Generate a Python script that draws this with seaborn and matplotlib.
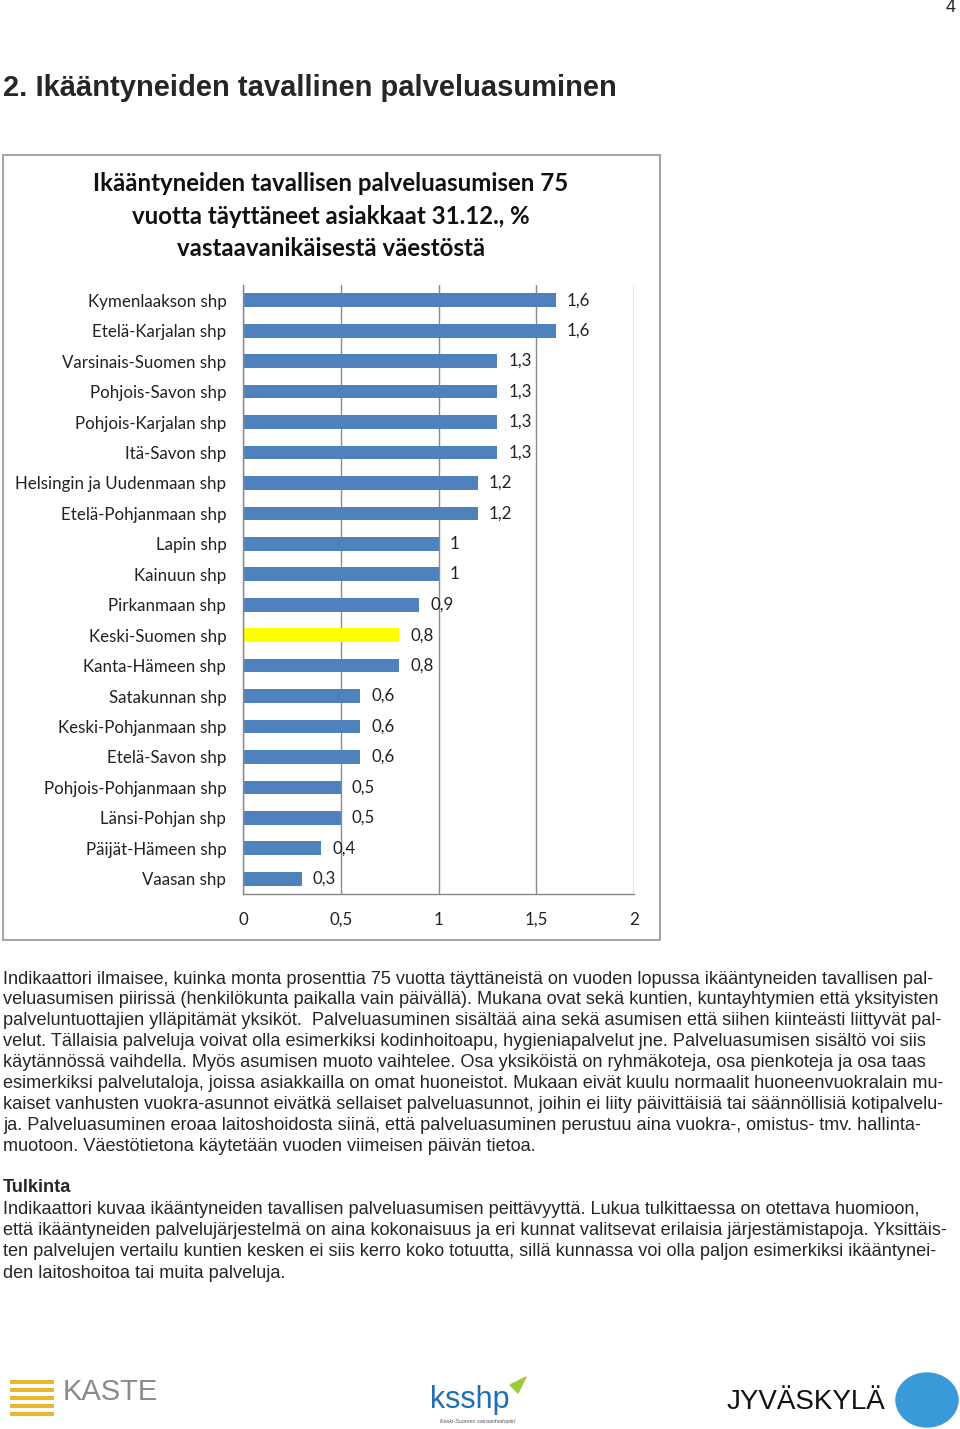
import matplotlib
matplotlib.use('Agg')
import matplotlib.pyplot as plt
import matplotlib.patches as mpatches
import seaborn as sns

# Data
regions = ['Kymenlaakson shp', 'Etelä-Karjalan shp', 'Varsinais-Suomen shp', 'Pohjois-Savon shp',
           'Pohjois-Karjalan shp', 'Itä-Savon shp', 'Helsingin ja Uudenmaan shp', 'Etelä-Pohjanmaan shp',
           'Lapin shp', 'Kainuun shp', 'Pirkanmaan shp', 'Keski-Suomen shp', 'Kanta-Hämeen shp',
           'Satakunnan shp', 'Keski-Pohjanmaan shp', 'Etelä-Savon shp', 'Pohjois-Pohjanmaan shp',
           'Länsi-Pohjan shp', 'Päijät-Hämeen shp', 'Vaasan shp']
values = [1.6, 1.6, 1.3, 1.3, 1.3, 1.3, 1.2, 1.2, 1.0, 1.0, 0.9, 0.8, 0.8, 0.6, 0.6, 0.6, 0.5, 0.5, 0.4, 0.3]
highlight = 'Keski-Suomen shp'
x_ticks = [0, 0.5, 1, 1.5, 2]
x_tick_labels = ['0', '0,5', '1', '1,5', '2']

chart_title = 'Ikääntyneiden tavallisen palveluasumisen 75\nvuotta täyttäneet asiakkaat 31.12., %\nvastaavanikäisestä väestöstä'
page_heading = '2. Ikääntyneiden tavallinen palveluasuminen'

body_lines = [
    'Indikaattori ilmaisee, kuinka monta prosenttia 75 vuotta täyttäneistä on vuoden lopussa ikääntyneiden tavallisen pal-',
    'veluasumisen piirissä (henkilökunta paikalla vain päivällä). Mukana ovat sekä kuntien, kuntayhtymien että yksityisten',
    'palveluntuottajien ylläpitämät yksiköt.  Palveluasuminen sisältää aina sekä asumisen että siihen kiinteästi liittyvät pal-',
    'velut. Tällaisia palveluja voivat olla esimerkiksi kodinhoitoapu, hygieniapalvelut jne. Palveluasumisen sisältö voi siis',
    'käytännössä vaihdella. Myös asumisen muoto vaihtelee. Osa yksiköistä on ryhmäkoteja, osa pienkoteja ja osa taas',
    'esimerkiksi palvelutaloja, joissa asiakkailla on omat huoneistot. Mukaan eivät kuulu normaalit huoneenvuokralain mu-',
    'kaiset vanhusten vuokra-asunnot eivätkä sellaiset palveluasunnot, joihin ei liity päivittäisiä tai säännöllisiä kotipalvelu-',
    'ja. Palveluasuminen eroaa laitoshoidosta siinä, että palveluasuminen perustuu aina vuokra-, omistus- tmv. hallinta-',
    'muotoon. Väestötietona käytetään vuoden viimeisen päivän tietoa.',
]
tulkinta_lines = [
    'Indikaattori kuvaa ikääntyneiden tavallisen palveluasumisen peittävyyttä. Lukua tulkittaessa on otettava huomioon,',
    'että ikääntyneiden palvelujärjestelmä on aina kokonaisuus ja eri kunnat valitsevat erilaisia järjestämistapoja. Yksittäis-',
    'ten palvelujen vertailu kuntien kesken ei siis kerro koko totuutta, sillä kunnassa voi olla paljon esimerkiksi ikääntynei-',
    'den laitoshoitoa tai muita palveluja.',
]

sns.set_style('white')
plt.rcParams['font.family'] = ['Lato', 'DejaVu Sans']

W, H = 960, 1429
fig = plt.figure(figsize=(W / 100, H / 100), dpi=100)

def fx(px):
    return px / W

def fy(py):
    return 1 - py / H

# chart frame
fig.patches.append(mpatches.Rectangle((fx(3), fy(940)), fx(657), (940 - 155) / H,
                                      transform=fig.transFigure, fill=False,
                                      edgecolor='#a6a6a6', linewidth=1.5))

ax = fig.add_axes([fx(243), fy(894), fx(634 - 243), (894 - 285) / H])
colors = ['#ffff00' if r == highlight else '#4f81bd' for r in regions]
sns.barplot(x=values, y=regions, hue=regions, palette=colors, legend=False,
            width=0.45, saturation=1, ax=ax, orient='h', linewidth=0)

for cont in ax.containers:
    labels = [('%g' % v.get_width()).replace('.', ',') for v in cont]
    ax.bar_label(cont, labels=labels, padding=8, fontsize=12.2, color='#222222')

ax.set_xlim(0, 2)
ax.set_ylim(len(regions) - 0.5, -0.5)
ax.set_xticks(x_ticks)
ax.set_xticklabels(x_tick_labels, fontsize=12.2, color='#222222')
ax.tick_params(axis='x', length=5, color='#888888', direction='out', pad=8)
ax.tick_params(axis='y', length=0, labelsize=12.2, labelcolor='#222222', pad=12)
ax.set_yticks([i + 0.5 for i in range(-1, len(regions))], minor=True)
ax.tick_params(axis='y', which='minor', length=5, color='#888888', direction='out')
ax.grid(axis='x', color='#8c8c8c', linewidth=1)
ax.set_axisbelow(True)
for s in ['top', 'right']:
    ax.spines[s].set_visible(False)
for s in ['left', 'bottom']:
    ax.spines[s].set_color('#888888')
    ax.spines[s].set_linewidth(1)
ax.set_xlabel('')
ax.set_ylabel('')

# chart title
fig.text(fx(331), fy(216), chart_title, ha='center', va='center', fontsize=17.3,
         fontweight='bold', linespacing=1.5, color='#111111')

# page texts
body_font = ['Liberation Sans', 'DejaVu Sans']
fig.text(fx(951), fy(8), '4', ha='center', va='center', fontsize=13, family=body_font)
fig.text(fx(3), fy(88), page_heading, ha='left', va='center', fontsize=21,
         fontweight='bold', family=body_font)

for i, line in enumerate(body_lines):
    fig.text(fx(3), fy(979 + i * 20.9), line, ha='left', va='center', fontsize=13.1, family=body_font)
fig.text(fx(3), fy(1188), 'Tulkinta', ha='left', va='center', fontsize=13.1,
         fontweight='bold', family=body_font)
for i, line in enumerate(tulkinta_lines):
    fig.text(fx(3), fy(1209 + i * 21.5), line, ha='left', va='center', fontsize=13.1, family=body_font)

# footer logos (approximated as text and simple shapes)
for k in range(5):
    fig.patches.append(mpatches.FancyBboxPatch((fx(10), fy(1384 + k * 8)), fx(44), 4 / H,
                                               boxstyle='round,pad=0', transform=fig.transFigure,
                                               color='#e8b92e', linewidth=0))
fig.text(fx(63), fy(1392), 'KASTE', ha='left', va='center', fontsize=21, color='#8a8a8a',
         family=body_font)
fig.text(fx(430), fy(1400), 'ksshp', ha='left', va='center', fontsize=22, color='#1f6fb2',
         family=body_font)
fig.text(fx(440), fy(1421), 'Keski-Suomen sairaanhoitopiiri', ha='left', va='center',
         fontsize=4, color='#555555', style='italic', family=body_font)
fig.patches.append(mpatches.Polygon([[fx(510), fy(1385)], [fx(526), fy(1377)], [fx(518), fy(1393)]],
                                    closed=True, transform=fig.transFigure, color='#9ccc3c'))
fig.text(fx(727), fy(1402), 'JYVÄSKYLÄ', ha='left', va='center', fontsize=20, color='#111111',
         family=['Liberation Sans Narrow', 'Liberation Sans'])
fig.patches.append(mpatches.Ellipse((fx(927), fy(1400)), fx(62), 54 / H,
                                    transform=fig.transFigure, color='#3a9ad9'))

fig.savefig('out.png', dpi=100)
